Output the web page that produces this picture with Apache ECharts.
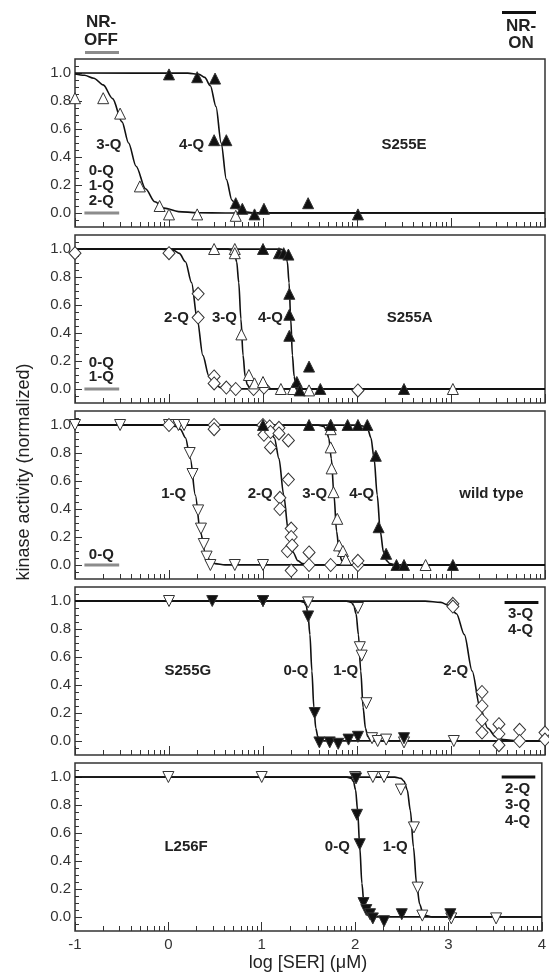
<!DOCTYPE html>
<html>
<head>
<meta charset="utf-8">
<title>kinase activity vs log [SER]</title>
<script src="https://cdn.jsdelivr.net/npm/echarts@6/dist/echarts.min.js"></script>
<style>
  html, body { margin: 0; padding: 0; background: #fff; }
  #chart { width: 549px; height: 975px; }
</style>
</head>
<body>
<div id="chart"></div>
<script>
// panels, top to bottom
const panelNames = ["S255E", "S255A", "wild type", "S255G", "L256F"];
const xTickLabels = ["-1", "0", "1", "2", "3", "4"];
const yTickLabels = ["0.0", "0.2", "0.4", "0.6", "0.8", "1.0"];

// S255E
const e3Points = [[-1.0, 0.82], [-0.70, 0.82], [-0.52, 0.71], [-0.31, 0.19], [-0.10, 0.05], [0.0, -0.01], [0.30, -0.01], [0.71, -0.02]];
const e4Points = [[0.0, 0.99], [0.30, 0.97], [0.49, 0.96], [0.48, 0.52], [0.61, 0.52], [0.71, 0.07], [0.78, 0.03], [0.91, -0.01], [1.01, 0.03], [1.48, 0.07], [2.01, -0.01]];
const e3Curve = [[-1, 0.993], [-0.9, 0.984], [-0.8, 0.963], [-0.7, 0.915], [-0.6, 0.817], [-0.5, 0.651], [-0.43, 0.5], [-0.35, 0.334], [-0.25, 0.173], [-0.15, 0.08], [-0.05, 0.035], [0.1, 0.01], [0.3, 0.002], [0.6, 0], [4, 0]];
const e4Curve = [[-1, 1], [0.2, 0.999], [0.32, 0.99], [0.38, 0.969], [0.44, 0.909], [0.5, 0.76], [0.555, 0.5], [0.61, 0.24], [0.67, 0.091], [0.73, 0.031], [0.79, 0.01], [0.91, 0.001], [4, 0]];

// S255A
const a2Points = [[-1.0, 0.97], [0.0, 0.97], [0.31, 0.68], [0.31, 0.51], [0.48, 0.09], [0.48, 0.04], [0.61, 0.01], [0.71, 0.0], [0.90, 0.0], [1.01, 0.01], [2.01, -0.01]];
const a3Points = [[0.48, 1.0], [0.70, 1.0], [0.70, 0.97], [0.77, 0.39], [0.85, 0.10], [0.91, 0.04], [1.0, 0.05], [1.19, 0.0], [1.32, 0.0], [1.49, -0.01], [3.02, 0.0]];
const a4Points = [[1.0, 1.0], [1.17, 0.97], [1.22, 0.97], [1.27, 0.96], [1.28, 0.68], [1.28, 0.53], [1.28, 0.38], [1.36, 0.05], [1.39, -0.01], [1.49, 0.16], [1.61, 0.0], [2.50, 0.0]];
const a2Curve = [[-1, 1], [-0.075, 0.999], [0.05, 0.99], [0.11, 0.969], [0.175, 0.909], [0.24, 0.76], [0.30, 0.5], [0.36, 0.24], [0.425, 0.091], [0.49, 0.031], [0.55, 0.01], [0.675, 0.001], [4, 0]];
const a3Curve = [[-1, 1], [0.63, 0.999], [0.674, 0.99], [0.697, 0.969], [0.72, 0.909], [0.742, 0.76], [0.765, 0.5], [0.788, 0.24], [0.81, 0.091], [0.833, 0.031], [0.856, 0.01], [0.90, 0.001], [4, 0]];
const a4Curve = [[-1, 1], [1.188, 0.999], [1.224, 0.99], [1.241, 0.969], [1.259, 0.909], [1.277, 0.76], [1.295, 0.5], [1.313, 0.24], [1.331, 0.091], [1.349, 0.031], [1.366, 0.01], [1.402, 0.001], [4, 0]];

// wild type
const w1Points = [[-1.0, 1.0], [-0.52, 1.0], [0.0, 1.0], [0.10, 1.0], [0.16, 1.0], [0.22, 0.80], [0.25, 0.65], [0.31, 0.39], [0.34, 0.26], [0.37, 0.15], [0.40, 0.06], [0.44, 0.0], [0.70, 0.0], [1.0, 0.0]];
const w2Points = [[0.0, 1.0], [0.48, 1.0], [0.48, 0.97], [1.0, 1.0], [1.01, 0.93], [1.07, 0.99], [1.08, 0.95], [1.08, 0.84], [1.17, 0.98], [1.17, 0.94], [1.27, 0.89], [1.27, 0.61], [1.18, 0.48], [1.18, 0.40], [1.30, 0.26], [1.30, 0.20], [1.26, 0.10], [1.31, 0.14], [1.49, 0.09], [1.49, 0.0], [1.30, -0.04], [1.72, 0.0], [2.01, 0.0], [2.01, 0.03]];
const w3Points = [[1.72, 1.0], [1.72, 0.97], [1.72, 0.84], [1.73, 0.69], [1.75, 0.52], [1.79, 0.33], [1.81, 0.14], [1.85, 0.10], [1.88, 0.04], [2.73, 0.0]];
const w4Points = [[1.0, 1.0], [1.49, 1.0], [1.72, 1.0], [1.90, 1.0], [2.01, 1.0], [2.11, 1.0], [2.20, 0.78], [2.23, 0.27], [2.31, 0.08], [2.42, 0.0], [2.50, 0.0], [3.02, 0.0]];
const w1Curve = [[-1, 1], [-0.036, 0.999], [0.07, 0.99], [0.122, 0.969], [0.175, 0.909], [0.227, 0.76], [0.28, 0.5], [0.333, 0.24], [0.385, 0.091], [0.438, 0.031], [0.49, 0.01], [0.596, 0.001], [4, 0]];
const w2Curve = [[-1, 1], [0.92, 0.999], [1.02, 0.99], [1.07, 0.969], [1.12, 0.909], [1.17, 0.76], [1.22, 0.5], [1.27, 0.24], [1.32, 0.091], [1.37, 0.031], [1.42, 0.01], [1.52, 0.001], [4, 0]];
const w3Curve = [[-1, 1], [1.588, 0.999], [1.644, 0.99], [1.672, 0.969], [1.699, 0.909], [1.727, 0.76], [1.755, 0.5], [1.783, 0.24], [1.811, 0.091], [1.838, 0.031], [1.866, 0.01], [1.922, 0.001], [4, 0]];
const w4Curve = [[-1, 1], [2.015, 0.999], [2.082, 0.99], [2.115, 0.969], [2.148, 0.909], [2.182, 0.76], [2.215, 0.5], [2.248, 0.24], [2.282, 0.091], [2.315, 0.031], [2.348, 0.01], [2.415, 0.001], [4, 0]];

// S255G
const g0Points = [[0.46, 1.0], [1.0, 1.0], [1.48, 0.89], [1.55, 0.20], [1.60, -0.01], [1.71, -0.01], [1.80, -0.02], [1.91, 0.01], [2.01, 0.03], [2.50, 0.02]];
const g1Points = [[0.0, 1.0], [1.0, 1.0], [1.48, 0.99], [2.01, 0.95], [2.03, 0.67], [2.05, 0.61], [2.10, 0.27], [2.16, 0.02], [2.22, 0.0], [2.31, 0.01], [2.50, -0.01], [3.03, 0.0]];
const g2Points = [[3.02, 0.98], [3.02, 0.96], [3.33, 0.35], [3.33, 0.25], [3.33, 0.15], [3.33, 0.06], [3.51, 0.12], [3.51, 0.05], [3.51, -0.03], [3.73, 0.08], [3.73, 0.0], [4.0, 0.06], [4.0, 0.01]];
const g0Curve = [[-1, 1], [1.395, 0.999], [1.437, 0.99], [1.458, 0.969], [1.478, 0.909], [1.499, 0.76], [1.52, 0.5], [1.541, 0.24], [1.562, 0.091], [1.583, 0.031], [1.603, 0.01], [1.645, 0.001], [4, 0]];
const g1Curve = [[-1, 1], [1.89, 0.999], [1.94, 0.99], [1.965, 0.969], [1.99, 0.909], [2.015, 0.76], [2.04, 0.5], [2.065, 0.24], [2.09, 0.091], [2.115, 0.031], [2.14, 0.01], [2.19, 0.001], [4, 0]];
const g2Curve = [[-1, 1], [2.725, 0.999], [2.892, 0.99], [2.975, 0.969], [3.058, 0.909], [3.142, 0.76], [3.225, 0.5], [3.308, 0.24], [3.392, 0.091], [3.475, 0.031], [3.558, 0.01], [3.725, 0.001], [4, 0]];

// L256F
const l0Points = [[2.01, 0.99], [2.02, 0.73], [2.05, 0.52], [2.09, 0.10], [2.12, 0.05], [2.16, 0.02], [2.19, -0.01], [2.31, -0.03], [2.50, 0.02], [3.02, 0.02]];
const l1Points = [[0.0, 1.0], [1.0, 1.0], [2.0, 1.0], [2.19, 1.0], [2.31, 1.0], [2.49, 0.91], [2.63, 0.64], [2.67, 0.21], [2.72, 0.01], [3.03, -0.01], [3.51, -0.01]];
const l0Curve = [[-1, 1], [1.914, 0.999], [1.959, 0.99], [1.982, 0.969], [2.005, 0.909], [2.027, 0.76], [2.05, 0.5], [2.073, 0.24], [2.095, 0.091], [2.118, 0.031], [2.141, 0.01], [2.186, 0.001], [4, 0]];
const l1Curve = [[-1, 1], [2.425, 0.999], [2.492, 0.99], [2.525, 0.969], [2.558, 0.909], [2.592, 0.76], [2.625, 0.5], [2.658, 0.24], [2.692, 0.091], [2.725, 0.031], [2.758, 0.01], [2.825, 0.001], [4, 0]];

const panels = [
  { curves: [e3Curve, e4Curve], sets: [[e3Points, "openUp"], [e4Points, "fillUp"]] },
  { curves: [a2Curve, a3Curve, a4Curve], sets: [[a2Points, "diamond"], [a3Points, "openUp"], [a4Points, "fillUp"]] },
  { curves: [w1Curve, w2Curve, w3Curve, w4Curve], sets: [[w1Points, "openDown"], [w2Points, "diamond"], [w3Points, "openUp"], [w4Points, "fillUp"]] },
  { curves: [g0Curve, g1Curve, g2Curve], sets: [[g2Points, "diamond"], [g1Points, "openDown"], [g0Points, "fillDown"]] },
  { curves: [l0Curve, l1Curve], sets: [[l1Points, "openDown"], [l0Points, "fillDown"]] },
];

// text inside the panels: [panel, x, y, text]
const notes = [
  [0, -0.64, 0.49, "3-Q"], [0, 0.24, 0.49, "4-Q"], [0, 2.5, 0.49, panelNames[0]],
  [0, -0.72, 0.30, "0-Q"], [0, -0.72, 0.195, "1-Q"], [0, -0.72, 0.09, "2-Q"],
  [1, 0.08, 0.51, "2-Q"], [1, 0.59, 0.51, "3-Q"], [1, 1.08, 0.51, "4-Q"], [1, 2.56, 0.51, panelNames[1]],
  [1, -0.72, 0.19, "0-Q"], [1, -0.72, 0.085, "1-Q"],
  [2, 0.05, 0.51, "1-Q"], [2, 0.97, 0.51, "2-Q"], [2, 1.55, 0.51, "3-Q"], [2, 2.05, 0.51, "4-Q"], [2, 3.43, 0.51, panelNames[2]],
  [2, -0.72, 0.075, "0-Q"],
  [3, 0.2, 0.5, panelNames[3]], [3, 1.35, 0.5, "0-Q"], [3, 1.88, 0.5, "1-Q"], [3, 3.05, 0.5, "2-Q"],
  [3, 3.74, 0.905, "3-Q"], [3, 3.74, 0.795, "4-Q"],
  [4, 0.19, 0.5, panelNames[4]], [4, 1.81, 0.5, "0-Q"], [4, 2.43, 0.5, "1-Q"],
  [4, 3.74, 0.915, "2-Q"], [4, 3.74, 0.80, "3-Q"], [4, 3.74, 0.685, "4-Q"],
];
// short bars: [panel, x1, x2, y, colour]
const bars = [
  [0, -0.9, -0.53, 0.0, "#8c8c8c"], [1, -0.9, -0.53, 0.0, "#8c8c8c"], [2, -0.9, -0.53, 0.0, "#8c8c8c"],
  [3, 3.57, 3.93, 0.99, "#111"], [4, 3.57, 3.93, 1.0, "#111"],
];

const FONT = "'Liberation Sans', Arial, sans-serif";
const INK = "#222";
const styles = {
  openUp: { symbol: "triangle", rotate: 0, fill: "#fff", size: 11 },
  fillUp: { symbol: "triangle", rotate: 0, fill: "#111", size: 11 },
  openDown: { symbol: "triangle", rotate: 180, fill: "#fff", size: 11 },
  fillDown: { symbol: "triangle", rotate: 180, fill: "#111", size: 11 },
  diamond: { symbol: "diamond", rotate: 0, fill: "#fff", size: [12, 13] },
};

// log minor ticks between decades
const minorX = [];
for (let d = -1; d < 4; d++) {
  for (let k = 2; k <= 9; k++) minorX.push(d + Math.log10(k));
}
const majorX = [-1, 0, 1, 2, 3, 4];
const majorY = [0, 0.2, 0.4, 0.6, 0.8, 1.0];
const minorY = [];
for (let v = -0.05; v < 1.08; v += 0.05) minorY.push(Math.round(v * 100) / 100);

const noLine = { show: false, onZero: false };
const grid = [], xAxis = [], yAxis = [], series = [];
panels.forEach((p, i) => {
  grid.push({
    left: 75, width: 470, top: 59 + 176 * i, height: 168,
    show: true, borderColor: "#333", borderWidth: 1.5, backgroundColor: "transparent",
  });
  const last = i === panels.length - 1;
  xAxis.push({
    type: "value", gridIndex: i, min: -1, max: 4, position: "bottom",
    axisLine: noLine, splitLine: { show: false },
    axisTick: { inside: true, length: 9, customValues: majorX, lineStyle: { color: "#333" } },
    axisLabel: {
      show: last, customValues: majorX, margin: 6, fontSize: 15, color: "#333", fontFamily: FONT,
      formatter: (v) => xTickLabels[Math.round(v) + 1],
    },
  });
  xAxis.push({
    type: "value", gridIndex: i, min: -1, max: 4, position: "bottom",
    axisLine: noLine, splitLine: { show: false }, axisLabel: { show: false },
    axisTick: { inside: true, length: 5, customValues: minorX, lineStyle: { color: "#333" } },
  });
  yAxis.push({
    type: "value", gridIndex: i, min: -0.1, max: 1.1, position: "left",
    axisLine: noLine, splitLine: { show: false },
    axisTick: { inside: true, length: 7, customValues: majorY, lineStyle: { color: "#333" } },
    axisLabel: {
      customValues: majorY, margin: 4, fontSize: 15, color: "#333", fontFamily: FONT,
      formatter: (v) => yTickLabels[Math.round(v / 0.2)],
    },
  });
  yAxis.push({
    type: "value", gridIndex: i, min: -0.1, max: 1.1, position: "left",
    axisLine: noLine, splitLine: { show: false }, axisLabel: { show: false },
    axisTick: { inside: true, length: 4, customValues: minorY, lineStyle: { color: "#333" } },
  });

  p.curves.forEach((c) => {
    series.push({
      type: "line", xAxisIndex: 2 * i, yAxisIndex: 2 * i, data: c,
      showSymbol: false, smooth: 0.3, smoothMonotone: "x", silent: true, z: 2,
      lineStyle: { color: "#111", width: 1.6 },
    });
  });
  p.sets.forEach(([pts, kind]) => {
    const s = styles[kind];
    series.push({
      type: "scatter", xAxisIndex: 2 * i, yAxisIndex: 2 * i, data: pts,
      symbol: s.symbol, symbolRotate: s.rotate, symbolSize: s.size, clip: false, z: 3,
      itemStyle: { color: s.fill, borderColor: "#333", borderWidth: 1, opacity: 1 },
    });
  });
});

const chart = echarts.init(document.getElementById("chart"));
chart.setOption({
  animation: false,
  backgroundColor: "#fff",
  grid, xAxis, yAxis, series,
});

const toPx = (i, x, y) => chart.convertToPixel({ xAxisIndex: 2 * i, yAxisIndex: 2 * i }, [x, y]);
const graphic = [];
notes.forEach(([i, x, y, text]) => {
  const [px, py] = toPx(i, x, y);
  graphic.push({
    type: "text", x: px, y: py, z: 10,
    style: { text, font: "bold 15px " + FONT, fill: INK, textAlign: "center", textVerticalAlign: "middle" },
  });
});
bars.forEach(([i, x1, x2, y, color]) => {
  const [p1, py] = toPx(i, x1, y);
  const [p2] = toPx(i, x2, y);
  graphic.push({ type: "rect", z: 10, shape: { x: p1, y: py - 1.5, width: p2 - p1, height: 3 }, style: { fill: color } });
});
const headFont = "bold 17px " + FONT;
// state labels above the top panel
graphic.push(
  { type: "text", x: 101, y: 22, style: { text: "NR-", font: headFont, fill: INK, textAlign: "center", textVerticalAlign: "middle" } },
  { type: "text", x: 101, y: 40, style: { text: "OFF", font: headFont, fill: INK, textAlign: "center", textVerticalAlign: "middle" } },
  { type: "rect", shape: { x: 85, y: 51, width: 34, height: 3 }, style: { fill: "#8c8c8c" } },
  { type: "rect", shape: { x: 502, y: 11, width: 34, height: 3 }, style: { fill: "#111" } },
  { type: "text", x: 521, y: 26, style: { text: "NR-", font: headFont, fill: INK, textAlign: "center", textVerticalAlign: "middle" } },
  { type: "text", x: 521, y: 43, style: { text: "ON", font: headFont, fill: INK, textAlign: "center", textVerticalAlign: "middle" } },
  // axis titles
  { type: "text", x: 24, y: 472, rotation: Math.PI / 2, style: { text: "kinase activity (normalized)", font: "18px " + FONT, fill: INK, textAlign: "center", textVerticalAlign: "middle" } },
  { type: "text", x: 308, y: 963, style: { text: "log [SER] (μM)", font: "18px " + FONT, fill: INK, textAlign: "center", textVerticalAlign: "middle" } }
);
chart.setOption({ graphic });
</script>
</body>
</html>
